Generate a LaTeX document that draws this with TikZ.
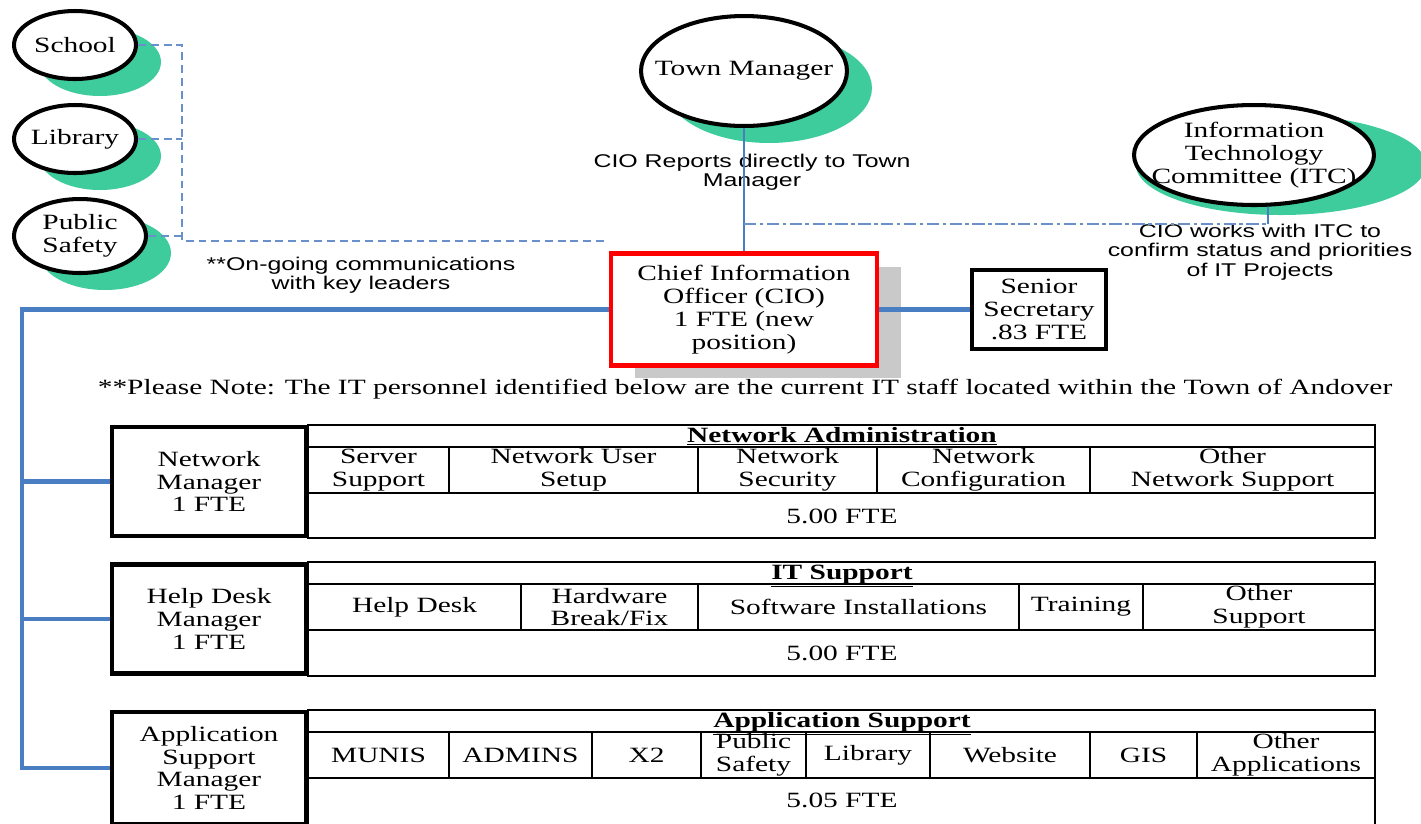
\documentclass[tikz,border=0pt]{standalone}
\usepackage{fontspec}
\setmainfont{Liberation Serif}[FakeStretch=1.35]
\setsansfont{Liberation Sans}[FakeStretch=1.35]
\usetikzlibrary{shapes.geometric,shadows}
\definecolor{leafgreen}{HTML}{3FCC9C}
\definecolor{linkblue}{HTML}{4A7EC2}
\definecolor{dashblue}{HTML}{6A90CC}
\definecolor{cioshadow}{HTML}{C9C9C9}
\newcommand{\serifsz}{\fontsize{12.4}{13}\selectfont}
\newcommand{\sanssz}{\sffamily\fontsize{10.5}{11}\selectfont}

\begin{document}
\begin{tikzpicture}[x=0.02cm, y=-0.02cm, font=\serifsz,
  bubble/.style={ellipse, draw, line width=2.3pt, fill=white, inner sep=0pt},
  leafshadow/.style={drop shadow={shadow xshift=0.5cm, shadow yshift=-0.34cm, fill=leafgreen, opacity=1}},
  bubbletext/.style={align=center, inner sep=0pt},
  ciobox/.style={draw=red, line width=2.8pt, fill=white, align=center, inner sep=0pt,
    minimum width=5.32cm, minimum height=2.24cm,
    drop shadow={shadow xshift=0.48cm, shadow yshift=-0.26cm, fill=cioshadow, opacity=1}},
  secbox/.style={draw, line width=2.3pt, fill=white, align=center, inner sep=0pt,
    minimum width=2.68cm, minimum height=1.58cm},
  mgrbox/.style={draw, line width=2.5pt, fill=white, align=center, inner sep=0pt, minimum width=3.88cm},
  tabtitle/.style={anchor=base, inner sep=0pt},
  tabline/.style={line width=1.5pt},
  cellline/.style={line width=1.3pt},
  celltext/.style={align=center, inner sep=0pt},
  note/.style={align=center, font=\sanssz, inner sep=0pt},
  orgline/.style={linkblue, line width=2.3pt},
  reportline/.style={linkblue, line width=0.6pt},
  commline/.style={dashblue, line width=0.6pt, dash pattern=on 4.5pt off 2.8pt},
  itcline/.style={dashblue, line width=0.6pt, dash pattern=on 7pt off 2pt on 2pt off 2pt}]
\path[use as bounding box, clip] (0,0) rectangle (1421,823);

% key leaders on the left
\node[bubble, leafshadow, minimum width=2.44cm, minimum height=1.36cm, label={[bubbletext]center:School}] (school) at (75,45) {};
\node[bubble, leafshadow, minimum width=2.44cm, minimum height=1.36cm, label={[bubbletext]center:Library}] (library) at (75,139) {};
\node[bubble, leafshadow, minimum width=2.64cm, minimum height=1.48cm, label={[bubbletext]center:{Public\\Safety}}] (safety) at (80,236) {};
\coordinate (bus) at (182,241);
\draw[commline] (school.east) -| (bus) -- (bus -| 608,0);
\draw[commline] (library.east) -- (library.east -| bus);
\draw[commline] (safety.east) -- (safety.east -| bus);
\node[note] (commnote) at (361,275) {**On-going communications\\with key leaders};

% town manager and ITC
\node[bubble, leafshadow, minimum width=4.12cm, minimum height=2.2cm, label={[bubbletext]center:Town Manager}] (town) at (744,71) {};
\node[note] (townnote) at (752,172) {CIO Reports directly to Town\\Manager};
\fill[leafgreen] (1281,165) ellipse [x radius=145, y radius=50];
\node[bubble, minimum width=4.8cm, minimum height=2.0cm, label={[bubbletext]center:{Information\\Technology\\Committee (ITC)}}] (itc) at (1254,155) {};
\node[note] (itcnote) at (1260,252) {CIO works with ITC to\\confirm status and priorities\\of IT Projects};

% CIO and secretary
\node[ciobox] (cio) at (744,309.5) {Chief Information\\Officer (CIO)\\1 FTE (new\\position)};
\node[secbox] (sec) at (1039,309.5) {Senior\\Secretary\\.83 FTE};
\coordinate (itcjoin) at (1268,224);
\draw[reportline] (town.south) -- (town.south |- cio.north);
\draw[itcline] (cio.north |- itcjoin) -- (itcjoin);
\draw[reportline] (itcjoin) -- (itcjoin |- itc.south);
\draw[orgline] (cio.east) -- (sec.west);

\node (staffnote) at (745,389) {**Please Note: The IT personnel identified below are the current IT staff located within the Town of Andover};

% network administration
\draw[tabline] (308,425) rectangle (1375,538) (308,447) -- (1375,447) (308,493) -- (1375,493);
\node[tabtitle] (nattl) at (842,442) {\underline{\textbf{Network Administration}}};
\foreach \xl/\xr/\txt [count=\i] in {308/449/{Server\\Support},449/698/{Network User\\Setup},698/877/{Network\\Security},877/1090/{Network\\Configuration},1090/1375/{Other\\Network Support}} {
  \draw[cellline] (\xl,447) -- (\xl,493);
  \node[celltext] (na\i) at ({(\xl+\xr)/2},470) {\txt};
}
\node[celltext] (nafte) at (842,516) {5.00 FTE};
\node[mgrbox, minimum height=2.18cm] (netmgr) at (209,481.5) {Network\\Manager\\1 FTE};

% IT support
\draw[tabline] (308,562) rectangle (1375,676) (308,584) -- (1375,584) (308,630) -- (1375,630);
\node[tabtitle] (itttl) at (842,579) {\underline{\textbf{IT Support}}};
\foreach \xl/\xr/\txt [count=\i] in {308/521/{Help Desk},521/698/{Hardware\\Break/Fix},698/1019/{Software Installations},1019/1143/{Training},1143/1375/{Other\\Support}} {
  \draw[cellline] (\xl,584) -- (\xl,630);
  \node[celltext] (it\i) at ({(\xl+\xr)/2},607) {\txt};
}
\node[celltext] (itfte) at (842,653) {5.00 FTE};
\node[mgrbox, minimum height=2.18cm] (helpmgr) at (209,619) {Help Desk\\Manager\\1 FTE};

% application support
\draw[tabline] (308,710) rectangle (1375,840) (308,732) -- (1375,732) (308,778) -- (1375,778);
\node[tabtitle] (apttl) at (842,727) {\underline{\textbf{Application Support}}};
\foreach \xl/\xr/\txt [count=\i] in {308/449/{MUNIS},449/592/{ADMINS},592/701/{X2},701/806/{Public\\Safety},806/930/{Library},930/1090/{Website},1090/1197/{GIS},1197/1375/{Other\\Applications}} {
  \draw[cellline] (\xl,732) -- (\xl,778);
  \node[celltext] (ap\i) at ({(\xl+\xr)/2},755) {\txt};
}
\node[celltext] (apfte) at (842,800) {5.05 FTE};
\node[mgrbox, minimum height=2.24cm] (appmgr) at (209,768) {Application\\Support\\Manager\\1 FTE};

% reporting lines from the CIO
\coordinate (trunk) at (22,309.5);
\draw[orgline] (cio.west) -- (trunk) |- (appmgr.west);
\draw[orgline] (trunk |- netmgr.west) -- (netmgr.west);
\draw[orgline] (trunk |- helpmgr.west) -- (helpmgr.west);
\end{tikzpicture}
\end{document}
